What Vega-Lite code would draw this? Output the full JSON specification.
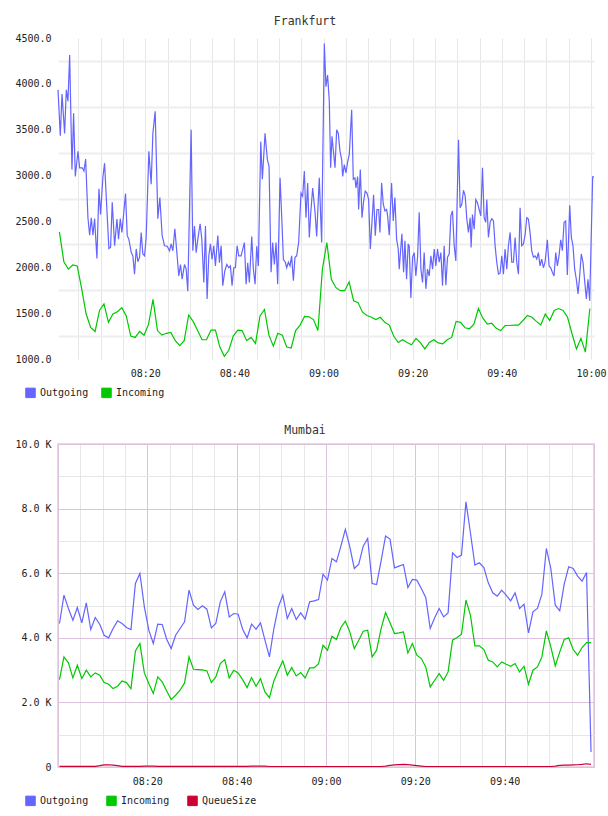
{
"$schema": "https://vega.github.io/schema/vega-lite/v6.json",
"padding": {"left": 14, "top": 15, "right": 0, "bottom": 0},
"config": {
  "font": "DejaVu Sans Mono",
  "view": {"stroke": null},
  "axis": {"labelFont": "DejaVu Sans Mono", "labelFontSize": 10, "labelColor": "#222", "ticks": false, "tickSize": 0, "domain": false, "labelOverlap": false, "labelFlush": false, "labelBound": false},
  "title": {"font": "DejaVu Sans Mono", "fontSize": 11.5, "fontWeight": "normal", "color": "#333", "anchor": "middle"},
  "legend": {"padding": 0, "labelFont": "DejaVu Sans Mono", "labelFontSize": 10, "labelColor": "#222", "symbolType": "square", "symbolSize": 90, "labelOffset": 4},
  "concat": {"spacing": 23}
},
"resolve": {"scale": {"color": "independent"}, "legend": {"color": "independent"}},
"vconcat": [
{
  "name": "fr",
  "title": {"text": "Frankfurt", "offset": 6, "dx": -21},
  "width": 536, "height": 321,
  "data": {"format": {"parse": {"t": "date:'%H:%M:%S'"}}, "values": [
{"t":"08:00:26","s":"Outgoing","v":3935},{"t":"08:00:57","s":"Outgoing","v":3435},{"t":"08:01:20","s":"Outgoing","v":3890},{"t":"08:01:55","s":"Outgoing","v":3460},{"t":"08:02:18","s":"Outgoing","v":3935},{"t":"08:02:40","s":"Outgoing","v":3810},{"t":"08:03:03","s":"Outgoing","v":4315},{"t":"08:03:34","s":"Outgoing","v":3065},{"t":"08:03:56","s":"Outgoing","v":3680},{"t":"08:04:19","s":"Outgoing","v":2990},{"t":"08:04:55","s":"Outgoing","v":3265},{"t":"08:05:17","s":"Outgoing","v":3085},{"t":"08:05:53","s":"Outgoing","v":3085},{"t":"08:06:15","s":"Outgoing","v":3050},{"t":"08:06:38","s":"Outgoing","v":3180},{"t":"08:07:09","s":"Outgoing","v":2540},{"t":"08:07:32","s":"Outgoing","v":2350},{"t":"08:07:54","s":"Outgoing","v":2540},{"t":"08:08:16","s":"Outgoing","v":2350},{"t":"08:08:39","s":"Outgoing","v":2530},{"t":"08:09:10","s":"Outgoing","v":2095},{"t":"08:09:37","s":"Outgoing","v":2855},{"t":"08:09:59","s":"Outgoing","v":2575},{"t":"08:10:31","s":"Outgoing","v":2990},{"t":"08:10:53","s":"Outgoing","v":3135},{"t":"08:11:24","s":"Outgoing","v":2630},{"t":"08:11:51","s":"Outgoing","v":2205},{"t":"08:12:14","s":"Outgoing","v":2220},{"t":"08:12:36","s":"Outgoing","v":2710},{"t":"08:13:08","s":"Outgoing","v":2235},{"t":"08:13:39","s":"Outgoing","v":2525},{"t":"08:14:01","s":"Outgoing","v":2305},{"t":"08:14:24","s":"Outgoing","v":2530},{"t":"08:14:46","s":"Outgoing","v":2380},{"t":"08:15:35","s":"Outgoing","v":2805},{"t":"08:15:58","s":"Outgoing","v":2345},{"t":"08:16:20","s":"Outgoing","v":2305},{"t":"08:16:52","s":"Outgoing","v":2160},{"t":"08:17:14","s":"Outgoing","v":2125},{"t":"08:17:36","s":"Outgoing","v":1925},{"t":"08:17:59","s":"Outgoing","v":2200},{"t":"08:18:21","s":"Outgoing","v":2060},{"t":"08:18:44","s":"Outgoing","v":2110},{"t":"08:19:06","s":"Outgoing","v":2380},{"t":"08:19:28","s":"Outgoing","v":2145},{"t":"08:19:51","s":"Outgoing","v":2125},{"t":"08:20:13","s":"Outgoing","v":2325},{"t":"08:20:49","s":"Outgoing","v":3265},{"t":"08:21:20","s":"Outgoing","v":2905},{"t":"08:21:43","s":"Outgoing","v":3460},{"t":"08:22:14","s":"Outgoing","v":3700},{"t":"08:22:50","s":"Outgoing","v":2530},{"t":"08:23:17","s":"Outgoing","v":2760},{"t":"08:23:48","s":"Outgoing","v":2345},{"t":"08:24:20","s":"Outgoing","v":2235},{"t":"08:24:56","s":"Outgoing","v":2230},{"t":"08:25:27","s":"Outgoing","v":2180},{"t":"08:25:49","s":"Outgoing","v":2255},{"t":"08:26:12","s":"Outgoing","v":2180},{"t":"08:26:39","s":"Outgoing","v":2420},{"t":"08:27:06","s":"Outgoing","v":2160},{"t":"08:27:32","s":"Outgoing","v":1905},{"t":"08:27:55","s":"Outgoing","v":2030},{"t":"08:28:17","s":"Outgoing","v":1870},{"t":"08:28:49","s":"Outgoing","v":2030},{"t":"08:29:11","s":"Outgoing","v":1980},{"t":"08:29:33","s":"Outgoing","v":1740},{"t":"08:30:18","s":"Outgoing","v":3500},{"t":"08:30:41","s":"Outgoing","v":2180},{"t":"08:31:03","s":"Outgoing","v":2450},{"t":"08:31:26","s":"Outgoing","v":2160},{"t":"08:31:48","s":"Outgoing","v":2305},{"t":"08:32:19","s":"Outgoing","v":2475},{"t":"08:32:42","s":"Outgoing","v":2305},{"t":"08:33:09","s":"Outgoing","v":1835},{"t":"08:33:31","s":"Outgoing","v":2450},{"t":"08:33:53","s":"Outgoing","v":1655},{"t":"08:34:16","s":"Outgoing","v":2125},{"t":"08:34:38","s":"Outgoing","v":2255},{"t":"08:35:00","s":"Outgoing","v":2085},{"t":"08:35:23","s":"Outgoing","v":2235},{"t":"08:35:45","s":"Outgoing","v":2015},{"t":"08:36:17","s":"Outgoing","v":2345},{"t":"08:36:39","s":"Outgoing","v":2050},{"t":"08:37:02","s":"Outgoing","v":2235},{"t":"08:37:24","s":"Outgoing","v":1800},{"t":"08:37:51","s":"Outgoing","v":1960},{"t":"08:38:18","s":"Outgoing","v":2030},{"t":"08:38:45","s":"Outgoing","v":1995},{"t":"08:39:07","s":"Outgoing","v":2015},{"t":"08:39:29","s":"Outgoing","v":1800},{"t":"08:39:52","s":"Outgoing","v":1995},{"t":"08:40:14","s":"Outgoing","v":1995},{"t":"08:40:37","s":"Outgoing","v":2235},{"t":"08:40:59","s":"Outgoing","v":2125},{"t":"08:41:30","s":"Outgoing","v":2125},{"t":"08:42:15","s":"Outgoing","v":2270},{"t":"08:42:38","s":"Outgoing","v":1815},{"t":"08:43:00","s":"Outgoing","v":2050},{"t":"08:43:22","s":"Outgoing","v":1835},{"t":"08:43:54","s":"Outgoing","v":2335},{"t":"08:44:16","s":"Outgoing","v":1980},{"t":"08:44:39","s":"Outgoing","v":1815},{"t":"08:45:01","s":"Outgoing","v":2230},{"t":"08:45:23","s":"Outgoing","v":2015},{"t":"08:45:55","s":"Outgoing","v":3370},{"t":"08:46:17","s":"Outgoing","v":2960},{"t":"08:46:53","s":"Outgoing","v":3460},{"t":"08:47:24","s":"Outgoing","v":3175},{"t":"08:47:47","s":"Outgoing","v":3100},{"t":"08:48:14","s":"Outgoing","v":1945},{"t":"08:48:36","s":"Outgoing","v":2270},{"t":"08:48:59","s":"Outgoing","v":2030},{"t":"08:49:21","s":"Outgoing","v":2270},{"t":"08:49:43","s":"Outgoing","v":1815},{"t":"08:50:15","s":"Outgoing","v":2975},{"t":"08:50:37","s":"Outgoing","v":2560},{"t":"08:51:00","s":"Outgoing","v":2085},{"t":"08:51:26","s":"Outgoing","v":2055},{"t":"08:51:44","s":"Outgoing","v":1995},{"t":"08:52:07","s":"Outgoing","v":2055},{"t":"08:52:29","s":"Outgoing","v":2015},{"t":"08:52:51","s":"Outgoing","v":2125},{"t":"08:53:14","s":"Outgoing","v":1855},{"t":"08:53:36","s":"Outgoing","v":2110},{"t":"08:53:59","s":"Outgoing","v":2125},{"t":"08:54:26","s":"Outgoing","v":2275},{"t":"08:54:57","s":"Outgoing","v":2810},{"t":"08:55:19","s":"Outgoing","v":2775},{"t":"08:55:42","s":"Outgoing","v":3050},{"t":"08:56:04","s":"Outgoing","v":2540},{"t":"08:56:27","s":"Outgoing","v":2920},{"t":"08:56:49","s":"Outgoing","v":2325},{"t":"08:57:07","s":"Outgoing","v":2575},{"t":"08:57:34","s":"Outgoing","v":2865},{"t":"08:58:05","s":"Outgoing","v":2610},{"t":"08:58:28","s":"Outgoing","v":2335},{"t":"08:59:03","s":"Outgoing","v":2975},{"t":"08:59:35","s":"Outgoing","v":2270},{"t":"09:00:11","s":"Outgoing","v":4440},{"t":"09:00:33","s":"Outgoing","v":3970},{"t":"09:00:55","s":"Outgoing","v":4095},{"t":"09:01:18","s":"Outgoing","v":3810},
{"t":"09:01:36","s":"Outgoing","v":3085},{"t":"09:01:54","s":"Outgoing","v":3428},{"t":"09:02:35","s":"Outgoing","v":3085},{"t":"09:02:57","s":"Outgoing","v":3500},{"t":"09:03:19","s":"Outgoing","v":3460},{"t":"09:03:42","s":"Outgoing","v":3265},{"t":"09:04:04","s":"Outgoing","v":3175},{"t":"09:04:18","s":"Outgoing","v":2990},{"t":"09:04:40","s":"Outgoing","v":3120},{"t":"09:05:02","s":"Outgoing","v":3030},{"t":"09:05:25","s":"Outgoing","v":3150},{"t":"09:05:47","s":"Outgoing","v":3230},{"t":"09:06:19","s":"Outgoing","v":3718},{"t":"09:06:41","s":"Outgoing","v":2960},{"t":"09:07:03","s":"Outgoing","v":2975},{"t":"09:07:17","s":"Outgoing","v":2865},{"t":"09:07:39","s":"Outgoing","v":2990},{"t":"09:07:53","s":"Outgoing","v":2630},{"t":"09:08:15","s":"Outgoing","v":3065},{"t":"09:08:38","s":"Outgoing","v":2540},{"t":"09:09:00","s":"Outgoing","v":2720},{"t":"09:09:22","s":"Outgoing","v":2830},{"t":"09:09:45","s":"Outgoing","v":2810},{"t":"09:10:07","s":"Outgoing","v":2740},{"t":"09:10:30","s":"Outgoing","v":2200},{"t":"09:10:52","s":"Outgoing","v":2490},{"t":"09:11:14","s":"Outgoing","v":2790},{"t":"09:11:37","s":"Outgoing","v":2345},{"t":"09:11:59","s":"Outgoing","v":2630},{"t":"09:12:22","s":"Outgoing","v":2630},{"t":"09:12:40","s":"Outgoing","v":2380},{"t":"09:13:02","s":"Outgoing","v":2920},{"t":"09:13:24","s":"Outgoing","v":2690},{"t":"09:13:47","s":"Outgoing","v":2615},{"t":"09:14:09","s":"Outgoing","v":2630},{"t":"09:14:23","s":"Outgoing","v":2560},{"t":"09:14:45","s":"Outgoing","v":2350},{"t":"09:15:16","s":"Outgoing","v":2920},{"t":"09:15:39","s":"Outgoing","v":2505},{"t":"09:16:01","s":"Outgoing","v":2760},{"t":"09:16:24","s":"Outgoing","v":2305},{"t":"09:16:46","s":"Outgoing","v":2200},{"t":"09:16:59","s":"Outgoing","v":1980},{"t":"09:17:35","s":"Outgoing","v":2365},{"t":"09:17:58","s":"Outgoing","v":1945},{"t":"09:18:16","s":"Outgoing","v":2290},{"t":"09:18:38","s":"Outgoing","v":1870},{"t":"09:19:00","s":"Outgoing","v":2255},{"t":"09:19:14","s":"Outgoing","v":2230},{"t":"09:19:36","s":"Outgoing","v":1665},{"t":"09:19:59","s":"Outgoing","v":2110},{"t":"09:20:21","s":"Outgoing","v":2160},{"t":"09:20:43","s":"Outgoing","v":1905},{"t":"09:21:06","s":"Outgoing","v":2110},{"t":"09:21:28","s":"Outgoing","v":2600},{"t":"09:21:51","s":"Outgoing","v":1980},{"t":"09:22:13","s":"Outgoing","v":1835},{"t":"09:22:35","s":"Outgoing","v":2160},{"t":"09:22:58","s":"Outgoing","v":1765},{"t":"09:23:20","s":"Outgoing","v":1980},{"t":"09:23:43","s":"Outgoing","v":1905},{"t":"09:24:05","s":"Outgoing","v":2125},{"t":"09:24:28","s":"Outgoing","v":1980},{"t":"09:24:50","s":"Outgoing","v":2200},{"t":"09:25:12","s":"Outgoing","v":2015},{"t":"09:25:35","s":"Outgoing","v":2200},{"t":"09:25:57","s":"Outgoing","v":2055},{"t":"09:26:20","s":"Outgoing","v":2160},{"t":"09:26:42","s":"Outgoing","v":1800},{"t":"09:27:04","s":"Outgoing","v":2235},{"t":"09:27:27","s":"Outgoing","v":1805},{"t":"09:27:49","s":"Outgoing","v":2110},{"t":"09:28:12","s":"Outgoing","v":2145},{"t":"09:28:34","s":"Outgoing","v":2560},{"t":"09:28:56","s":"Outgoing","v":2615},{"t":"09:29:19","s":"Outgoing","v":2235},{"t":"09:29:41","s":"Outgoing","v":2070},{"t":"09:30:17","s":"Outgoing","v":3390},{"t":"09:30:39","s":"Outgoing","v":2650},{"t":"09:31:02","s":"Outgoing","v":2690},{"t":"09:31:24","s":"Outgoing","v":2840},{"t":"09:31:47","s":"Outgoing","v":2775},{"t":"09:32:09","s":"Outgoing","v":2525},{"t":"09:32:31","s":"Outgoing","v":2380},{"t":"09:32:54","s":"Outgoing","v":2540},{"t":"09:33:07","s":"Outgoing","v":2215},{"t":"09:33:25","s":"Outgoing","v":2575},{"t":"09:33:48","s":"Outgoing","v":2415},{"t":"09:34:10","s":"Outgoing","v":2740},{"t":"09:34:32","s":"Outgoing","v":2705},{"t":"09:34:55","s":"Outgoing","v":2630},{"t":"09:35:17","s":"Outgoing","v":2560},{"t":"09:35:40","s":"Outgoing","v":3085},{"t":"09:36:02","s":"Outgoing","v":2540},{"t":"09:36:24","s":"Outgoing","v":2490},{"t":"09:36:38","s":"Outgoing","v":2740},{"t":"09:37:00","s":"Outgoing","v":2325},{"t":"09:37:23","s":"Outgoing","v":2490},{"t":"09:37:45","s":"Outgoing","v":2530},{"t":"09:38:08","s":"Outgoing","v":2505},{"t":"09:38:30","s":"Outgoing","v":2235},{"t":"09:38:52","s":"Outgoing","v":2055},{"t":"09:39:15","s":"Outgoing","v":1925},{"t":"09:39:37","s":"Outgoing","v":1935},{"t":"09:40:00","s":"Outgoing","v":2125},{"t":"09:40:22","s":"Outgoing","v":1925},{"t":"09:40:44","s":"Outgoing","v":2200},{"t":"09:41:07","s":"Outgoing","v":1980},{"t":"09:41:29","s":"Outgoing","v":2235},{"t":"09:41:52","s":"Outgoing","v":2380},{"t":"09:42:14","s":"Outgoing","v":2055},{"t":"09:42:36","s":"Outgoing","v":2055},{"t":"09:42:59","s":"Outgoing","v":2325},{"t":"09:43:21","s":"Outgoing","v":2055},{"t":"09:43:44","s":"Outgoing","v":1925},{"t":"09:44:06","s":"Outgoing","v":2650},{"t":"09:44:28","s":"Outgoing","v":2235},{"t":"09:44:51","s":"Outgoing","v":2255},{"t":"09:45:13","s":"Outgoing","v":2350},{"t":"09:45:36","s":"Outgoing","v":2540},{"t":"09:45:58","s":"Outgoing","v":2525},{"t":"09:46:20","s":"Outgoing","v":2380},{"t":"09:46:43","s":"Outgoing","v":2180},{"t":"09:47:05","s":"Outgoing","v":2110},{"t":"09:47:28","s":"Outgoing","v":2125},{"t":"09:47:50","s":"Outgoing","v":2090},{"t":"09:48:12","s":"Outgoing","v":2160},{"t":"09:48:35","s":"Outgoing","v":2015},{"t":"09:48:57","s":"Outgoing","v":2090},{"t":"09:49:20","s":"Outgoing","v":1995},{"t":"09:49:42","s":"Outgoing","v":2055},{"t":"09:50:13","s":"Outgoing","v":2300},{"t":"09:50:36","s":"Outgoing","v":2015},{"t":"09:50:58","s":"Outgoing","v":1995},{"t":"09:51:21","s":"Outgoing","v":1945},{"t":"09:51:43","s":"Outgoing","v":1905},{"t":"09:52:06","s":"Outgoing","v":2160},{"t":"09:52:28","s":"Outgoing","v":2015},{"t":"09:52:50","s":"Outgoing","v":2125},{"t":"09:53:13","s":"Outgoing","v":2300},{"t":"09:53:35","s":"Outgoing","v":2180},{"t":"09:53:58","s":"Outgoing","v":2490},{"t":"09:54:20","s":"Outgoing","v":2505},{"t":"09:54:42","s":"Outgoing","v":1915},{"t":"09:55:14","s":"Outgoing","v":2675},{"t":"09:55:36","s":"Outgoing","v":2325},{"t":"09:55:58","s":"Outgoing","v":2235},{"t":"09:56:21","s":"Outgoing","v":1980},{"t":"09:56:43","s":"Outgoing","v":1870},{"t":"09:57:06","s":"Outgoing","v":1710},{"t":"09:57:28","s":"Outgoing","v":1905},{"t":"09:57:50","s":"Outgoing","v":2145},{"t":"09:58:13","s":"Outgoing","v":2055},{"t":"09:58:35","s":"Outgoing","v":1855},{"t":"09:58:58","s":"Outgoing","v":1655},{"t":"09:59:20","s":"Outgoing","v":1870},{"t":"09:59:43","s":"Outgoing","v":1635},{"t":"10:00:23","s":"Outgoing","v":2985},{"t":"10:00:41","s":"Outgoing","v":2985},
{"t":"08:00:45","s":"Incoming","v":2386},{"t":"08:01:45","s":"Incoming","v":2060},{"t":"08:02:45","s":"Incoming","v":1980},{"t":"08:03:45","s":"Incoming","v":2025},{"t":"08:04:45","s":"Incoming","v":2015},{"t":"08:05:45","s":"Incoming","v":1765},{"t":"08:06:45","s":"Incoming","v":1490},{"t":"08:07:45","s":"Incoming","v":1345},{"t":"08:08:45","s":"Incoming","v":1300},{"t":"08:09:45","s":"Incoming","v":1530},{"t":"08:10:45","s":"Incoming","v":1600},{"t":"08:11:45","s":"Incoming","v":1400},{"t":"08:12:45","s":"Incoming","v":1490},{"t":"08:13:45","s":"Incoming","v":1515},{"t":"08:14:45","s":"Incoming","v":1560},{"t":"08:15:45","s":"Incoming","v":1470},{"t":"08:16:45","s":"Incoming","v":1250},{"t":"08:17:45","s":"Incoming","v":1235},{"t":"08:18:45","s":"Incoming","v":1300},{"t":"08:19:45","s":"Incoming","v":1260},{"t":"08:20:45","s":"Incoming","v":1380},{"t":"08:21:45","s":"Incoming","v":1650},{"t":"08:22:45","s":"Incoming","v":1310},{"t":"08:23:45","s":"Incoming","v":1260},{"t":"08:24:45","s":"Incoming","v":1280},{"t":"08:25:45","s":"Incoming","v":1290},{"t":"08:26:45","s":"Incoming","v":1200},{"t":"08:27:45","s":"Incoming","v":1145},{"t":"08:28:45","s":"Incoming","v":1200},{"t":"08:29:45","s":"Incoming","v":1480},{"t":"08:30:45","s":"Incoming","v":1410},{"t":"08:31:45","s":"Incoming","v":1310},{"t":"08:32:45","s":"Incoming","v":1210},{"t":"08:33:45","s":"Incoming","v":1210},{"t":"08:34:45","s":"Incoming","v":1315},{"t":"08:35:45","s":"Incoming","v":1315},{"t":"08:36:45","s":"Incoming","v":1130},{"t":"08:37:45","s":"Incoming","v":1030},{"t":"08:38:45","s":"Incoming","v":1095},{"t":"08:39:45","s":"Incoming","v":1250},{"t":"08:40:45","s":"Incoming","v":1315},{"t":"08:41:45","s":"Incoming","v":1310},{"t":"08:42:45","s":"Incoming","v":1200},{"t":"08:43:45","s":"Incoming","v":1235},{"t":"08:44:45","s":"Incoming","v":1170},{"t":"08:45:45","s":"Incoming","v":1470},{"t":"08:46:45","s":"Incoming","v":1540},{"t":"08:47:45","s":"Incoming","v":1260},{"t":"08:48:45","s":"Incoming","v":1140},{"t":"08:49:45","s":"Incoming","v":1280},{"t":"08:50:45","s":"Incoming","v":1260},{"t":"08:51:45","s":"Incoming","v":1130},{"t":"08:52:45","s":"Incoming","v":1120},{"t":"08:53:45","s":"Incoming","v":1310},{"t":"08:54:45","s":"Incoming","v":1370},{"t":"08:55:45","s":"Incoming","v":1465},{"t":"08:56:45","s":"Incoming","v":1460},{"t":"08:57:45","s":"Incoming","v":1430},{"t":"08:58:45","s":"Incoming","v":1310},{"t":"08:59:45","s":"Incoming","v":1980},{"t":"09:00:45","s":"Incoming","v":2270},{"t":"09:01:45","s":"Incoming","v":1870},{"t":"09:02:45","s":"Incoming","v":1780},{"t":"09:03:45","s":"Incoming","v":1745},{"t":"09:04:45","s":"Incoming","v":1745},{"t":"09:05:45","s":"Incoming","v":1840},{"t":"09:06:45","s":"Incoming","v":1635},{"t":"09:07:45","s":"Incoming","v":1615},{"t":"09:08:45","s":"Incoming","v":1510},{"t":"09:09:45","s":"Incoming","v":1475},{"t":"09:10:45","s":"Incoming","v":1455},{"t":"09:11:45","s":"Incoming","v":1430},{"t":"09:12:45","s":"Incoming","v":1455},{"t":"09:13:45","s":"Incoming","v":1400},{"t":"09:14:45","s":"Incoming","v":1370},{"t":"09:15:45","s":"Incoming","v":1250},{"t":"09:16:45","s":"Incoming","v":1180},{"t":"09:17:45","s":"Incoming","v":1210},{"t":"09:18:45","s":"Incoming","v":1180},{"t":"09:19:45","s":"Incoming","v":1155},{"t":"09:20:45","s":"Incoming","v":1225},{"t":"09:21:45","s":"Incoming","v":1175},{"t":"09:22:45","s":"Incoming","v":1110},{"t":"09:23:45","s":"Incoming","v":1180},{"t":"09:24:45","s":"Incoming","v":1210},{"t":"09:25:45","s":"Incoming","v":1175},{"t":"09:26:45","s":"Incoming","v":1165},{"t":"09:27:45","s":"Incoming","v":1210},{"t":"09:28:45","s":"Incoming","v":1235},{"t":"09:29:45","s":"Incoming","v":1410},{"t":"09:30:45","s":"Incoming","v":1400},{"t":"09:31:45","s":"Incoming","v":1340},{"t":"09:32:45","s":"Incoming","v":1330},{"t":"09:33:45","s":"Incoming","v":1380},{"t":"09:34:45","s":"Incoming","v":1550},{"t":"09:35:45","s":"Incoming","v":1445},{"t":"09:36:45","s":"Incoming","v":1380},{"t":"09:37:45","s":"Incoming","v":1390},{"t":"09:38:45","s":"Incoming","v":1335},{"t":"09:39:45","s":"Incoming","v":1310},{"t":"09:40:45","s":"Incoming","v":1365},{"t":"09:41:45","s":"Incoming","v":1365},{"t":"09:42:45","s":"Incoming","v":1370},{"t":"09:43:45","s":"Incoming","v":1370},{"t":"09:44:45","s":"Incoming","v":1420},{"t":"09:45:45","s":"Incoming","v":1475},{"t":"09:46:45","s":"Incoming","v":1455},{"t":"09:47:45","s":"Incoming","v":1410},{"t":"09:48:45","s":"Incoming","v":1370},{"t":"09:49:45","s":"Incoming","v":1490},{"t":"09:50:45","s":"Incoming","v":1420},{"t":"09:51:45","s":"Incoming","v":1530},{"t":"09:52:45","s":"Incoming","v":1550},{"t":"09:53:45","s":"Incoming","v":1530},{"t":"09:54:45","s":"Incoming","v":1455},{"t":"09:55:45","s":"Incoming","v":1275},{"t":"09:56:45","s":"Incoming","v":1110},{"t":"09:57:45","s":"Incoming","v":1225},{"t":"09:58:45","s":"Incoming","v":1075},{"t":"09:59:45","s":"Incoming","v":1550}
  ]},
  "mark": {"type": "line", "strokeWidth": 1.2},
  "encoding": {
    "x": {"field": "t", "type": "temporal", "title": null,
      "scale": {"domain": [{"year": 1900, "month": 1, "date": 1, "hours": 8, "minutes": 0, "seconds": 26}, {"year": 1900, "month": 1, "date": 1, "hours": 10, "minutes": 0, "seconds": 41}]},
      "axis": {"values": [
        {"year": 1900, "month": 1, "date": 1, "hours": 8, "minutes": 5}, {"year": 1900, "month": 1, "date": 1, "hours": 8, "minutes": 10}, {"year": 1900, "month": 1, "date": 1, "hours": 8, "minutes": 15}, {"year": 1900, "month": 1, "date": 1, "hours": 8, "minutes": 20},
        {"year": 1900, "month": 1, "date": 1, "hours": 8, "minutes": 25}, {"year": 1900, "month": 1, "date": 1, "hours": 8, "minutes": 30}, {"year": 1900, "month": 1, "date": 1, "hours": 8, "minutes": 35}, {"year": 1900, "month": 1, "date": 1, "hours": 8, "minutes": 40},
        {"year": 1900, "month": 1, "date": 1, "hours": 8, "minutes": 45}, {"year": 1900, "month": 1, "date": 1, "hours": 8, "minutes": 50}, {"year": 1900, "month": 1, "date": 1, "hours": 8, "minutes": 55}, {"year": 1900, "month": 1, "date": 1, "hours": 9, "minutes": 0},
        {"year": 1900, "month": 1, "date": 1, "hours": 9, "minutes": 5}, {"year": 1900, "month": 1, "date": 1, "hours": 9, "minutes": 10}, {"year": 1900, "month": 1, "date": 1, "hours": 9, "minutes": 15}, {"year": 1900, "month": 1, "date": 1, "hours": 9, "minutes": 20},
        {"year": 1900, "month": 1, "date": 1, "hours": 9, "minutes": 25}, {"year": 1900, "month": 1, "date": 1, "hours": 9, "minutes": 30}, {"year": 1900, "month": 1, "date": 1, "hours": 9, "minutes": 35}, {"year": 1900, "month": 1, "date": 1, "hours": 9, "minutes": 40},
        {"year": 1900, "month": 1, "date": 1, "hours": 9, "minutes": 45}, {"year": 1900, "month": 1, "date": 1, "hours": 9, "minutes": 50}, {"year": 1900, "month": 1, "date": 1, "hours": 9, "minutes": 55}, {"year": 1900, "month": 1, "date": 1, "hours": 10, "minutes": 0}],
        "labelExpr": "minutes(datum.value) % 20 === 0 ? timeFormat(datum.value, '%H:%M') : ''", "grid": true, "gridColor": "#e6e6e6", "gridWidth": 1, "labelPadding": 9}},
    "y": {"field": "v", "type": "quantitative", "title": null,
      "scale": {"domain": [1000, 4500], "nice": false, "zero": false},
      "axis": {"values": [1000, 1250, 1500, 1750, 2000, 2250, 2500, 2750, 3000, 3250, 3500, 3750, 4000, 4250, 4500], "labelExpr": "datum.value % 500 === 0 ? format(datum.value, '.1f') : ''", "grid": true, "gridColor": {"condition": {"test": "datum.value % 500 === 0", "value": "transparent"}, "value": "#eeeeee"}, "gridWidth": 2, "labelPadding": 7}},
    "color": {"field": "s", "type": "nominal",
      "scale": {"domain": ["Outgoing", "Incoming"], "range": ["#6464ff", "#00c800"]},
      "legend": {"title": null, "orient": "none", "direction": "horizontal", "legendX": -33, "legendY": 349, "columnPadding": 10,
        "encode": {"symbols": {"update": {"fill": {"scale": "fr_color", "field": "value"}, "stroke": {"value": "#888888"}, "strokeWidth": {"value": 1}}}}}}
  }
},
{
  "name": "mu",
  "title": {"text": "Mumbai", "offset": 3, "dx": -21},
  "width": 536, "height": 323,
  "view": {"stroke": "#e2c6e2", "strokeWidth": 1.5},
  "data": {"format": {"parse": {"t": "date:'%H:%M:%S'"}}, "values": [
{"t":"08:00:20","s":"Outgoing","v":4442},{"t":"08:01:20","s":"Outgoing","v":5320},{"t":"08:02:20","s":"Outgoing","v":4907},{"t":"08:03:20","s":"Outgoing","v":4545},{"t":"08:04:20","s":"Outgoing","v":4938},{"t":"08:05:20","s":"Outgoing","v":4463},{"t":"08:06:20","s":"Outgoing","v":5082},{"t":"08:07:20","s":"Outgoing","v":4256},{"t":"08:08:20","s":"Outgoing","v":4628},{"t":"08:09:20","s":"Outgoing","v":4421},
{"t":"08:10:20","s":"Outgoing","v":4080},{"t":"08:11:20","s":"Outgoing","v":3998},{"t":"08:12:20","s":"Outgoing","v":4287},{"t":"08:13:20","s":"Outgoing","v":4525},{"t":"08:14:20","s":"Outgoing","v":4442},{"t":"08:15:20","s":"Outgoing","v":4318},{"t":"08:16:20","s":"Outgoing","v":4256},{"t":"08:17:20","s":"Outgoing","v":5682},{"t":"08:18:20","s":"Outgoing","v":5991},{"t":"08:19:20","s":"Outgoing","v":4958},
{"t":"08:20:20","s":"Outgoing","v":4235},{"t":"08:21:20","s":"Outgoing","v":3822},{"t":"08:22:20","s":"Outgoing","v":4421},{"t":"08:23:20","s":"Outgoing","v":4411},{"t":"08:24:20","s":"Outgoing","v":3956},{"t":"08:25:20","s":"Outgoing","v":3667},{"t":"08:26:20","s":"Outgoing","v":4080},{"t":"08:27:20","s":"Outgoing","v":4287},{"t":"08:28:20","s":"Outgoing","v":4494},{"t":"08:29:20","s":"Outgoing","v":5475},
{"t":"08:30:20","s":"Outgoing","v":5010},{"t":"08:31:20","s":"Outgoing","v":4876},{"t":"08:32:20","s":"Outgoing","v":4989},{"t":"08:33:20","s":"Outgoing","v":4886},{"t":"08:34:20","s":"Outgoing","v":4308},{"t":"08:35:20","s":"Outgoing","v":4442},{"t":"08:36:20","s":"Outgoing","v":5113},{"t":"08:37:20","s":"Outgoing","v":5423},{"t":"08:38:20","s":"Outgoing","v":4648},{"t":"08:39:20","s":"Outgoing","v":4752},
{"t":"08:40:20","s":"Outgoing","v":4731},{"t":"08:41:20","s":"Outgoing","v":4266},{"t":"08:42:20","s":"Outgoing","v":3998},{"t":"08:43:20","s":"Outgoing","v":4421},{"t":"08:44:20","s":"Outgoing","v":4266},{"t":"08:45:20","s":"Outgoing","v":4463},{"t":"08:46:20","s":"Outgoing","v":3925},{"t":"08:47:20","s":"Outgoing","v":3409},{"t":"08:48:20","s":"Outgoing","v":4287},{"t":"08:49:20","s":"Outgoing","v":4958},
{"t":"08:50:20","s":"Outgoing","v":5320},{"t":"08:51:20","s":"Outgoing","v":4597},{"t":"08:52:20","s":"Outgoing","v":4907},{"t":"08:53:20","s":"Outgoing","v":4566},{"t":"08:54:20","s":"Outgoing","v":4772},{"t":"08:55:20","s":"Outgoing","v":4576},{"t":"08:56:20","s":"Outgoing","v":5113},{"t":"08:57:20","s":"Outgoing","v":5144},{"t":"08:58:20","s":"Outgoing","v":5186},{"t":"08:59:20","s":"Outgoing","v":5971},
{"t":"09:00:20","s":"Outgoing","v":5785},{"t":"09:01:20","s":"Outgoing","v":6456},{"t":"09:02:20","s":"Outgoing","v":6353},{"t":"09:03:20","s":"Outgoing","v":6838},{"t":"09:04:20","s":"Outgoing","v":7355},{"t":"09:05:20","s":"Outgoing","v":6818},{"t":"09:06:20","s":"Outgoing","v":6146},{"t":"09:07:20","s":"Outgoing","v":6281},{"t":"09:08:20","s":"Outgoing","v":6838},{"t":"09:09:20","s":"Outgoing","v":7076},
{"t":"09:10:20","s":"Outgoing","v":5682},{"t":"09:11:20","s":"Outgoing","v":5651},{"t":"09:12:20","s":"Outgoing","v":6384},{"t":"09:13:20","s":"Outgoing","v":7148},{"t":"09:14:20","s":"Outgoing","v":7055},{"t":"09:15:20","s":"Outgoing","v":6167},{"t":"09:16:20","s":"Outgoing","v":6219},{"t":"09:17:20","s":"Outgoing","v":6270},{"t":"09:18:20","s":"Outgoing","v":5558},{"t":"09:19:20","s":"Outgoing","v":5805},
{"t":"09:20:20","s":"Outgoing","v":5785},{"t":"09:21:20","s":"Outgoing","v":5527},{"t":"09:22:20","s":"Outgoing","v":5248},{"t":"09:23:20","s":"Outgoing","v":4287},{"t":"09:24:20","s":"Outgoing","v":4618},{"t":"09:25:20","s":"Outgoing","v":4907},{"t":"09:26:20","s":"Outgoing","v":4649},{"t":"09:27:20","s":"Outgoing","v":4772},{"t":"09:28:20","s":"Outgoing","v":6632},{"t":"09:29:20","s":"Outgoing","v":6487},
{"t":"09:30:20","s":"Outgoing","v":6560},{"t":"09:31:20","s":"Outgoing","v":8212},{"t":"09:32:20","s":"Outgoing","v":7252},{"t":"09:33:20","s":"Outgoing","v":6250},{"t":"09:34:20","s":"Outgoing","v":6322},{"t":"09:35:20","s":"Outgoing","v":6177},{"t":"09:36:20","s":"Outgoing","v":5702},{"t":"09:37:20","s":"Outgoing","v":5392},{"t":"09:38:20","s":"Outgoing","v":5289},{"t":"09:39:20","s":"Outgoing","v":5475},
{"t":"09:40:20","s":"Outgoing","v":5320},{"t":"09:41:20","s":"Outgoing","v":5144},{"t":"09:42:20","s":"Outgoing","v":5392},{"t":"09:43:20","s":"Outgoing","v":4907},{"t":"09:44:20","s":"Outgoing","v":5041},{"t":"09:45:20","s":"Outgoing","v":4153},{"t":"09:46:20","s":"Outgoing","v":4803},{"t":"09:47:20","s":"Outgoing","v":4907},{"t":"09:48:20","s":"Outgoing","v":5351},{"t":"09:49:20","s":"Outgoing","v":6766},
{"t":"09:50:20","s":"Outgoing","v":6146},{"t":"09:51:20","s":"Outgoing","v":5010},{"t":"09:52:20","s":"Outgoing","v":4834},{"t":"09:53:20","s":"Outgoing","v":5661},{"t":"09:54:20","s":"Outgoing","v":6198},{"t":"09:55:20","s":"Outgoing","v":6146},{"t":"09:56:20","s":"Outgoing","v":5909},{"t":"09:57:20","s":"Outgoing","v":5754},{"t":"09:58:20","s":"Outgoing","v":6022},{"t":"09:59:20","s":"Outgoing","v":465},
{"t":"08:00:20","s":"Incoming","v":2706},{"t":"08:01:20","s":"Incoming","v":3409},{"t":"08:02:20","s":"Incoming","v":3223},{"t":"08:03:20","s":"Incoming","v":2758},{"t":"08:04:20","s":"Incoming","v":3151},{"t":"08:05:20","s":"Incoming","v":2737},{"t":"08:06:20","s":"Incoming","v":2996},{"t":"08:07:20","s":"Incoming","v":2789},{"t":"08:08:20","s":"Incoming","v":2913},{"t":"08:09:20","s":"Incoming","v":2841},
{"t":"08:10:20","s":"Incoming","v":2613},{"t":"08:11:20","s":"Incoming","v":2562},{"t":"08:12:20","s":"Incoming","v":2428},{"t":"08:13:20","s":"Incoming","v":2500},{"t":"08:14:20","s":"Incoming","v":2665},{"t":"08:15:20","s":"Incoming","v":2613},{"t":"08:16:20","s":"Incoming","v":2428},{"t":"08:17:20","s":"Incoming","v":3595},{"t":"08:18:20","s":"Incoming","v":3822},{"t":"08:19:20","s":"Incoming","v":2913},
{"t":"08:20:20","s":"Incoming","v":2583},{"t":"08:21:20","s":"Incoming","v":2273},{"t":"08:22:20","s":"Incoming","v":2789},{"t":"08:23:20","s":"Incoming","v":2634},{"t":"08:24:20","s":"Incoming","v":2355},{"t":"08:25:20","s":"Incoming","v":2087},{"t":"08:26:20","s":"Incoming","v":2221},{"t":"08:27:20","s":"Incoming","v":2376},{"t":"08:28:20","s":"Incoming","v":2603},{"t":"08:29:20","s":"Incoming","v":3409},
{"t":"08:30:20","s":"Incoming","v":3027},{"t":"08:31:20","s":"Incoming","v":3016},{"t":"08:32:20","s":"Incoming","v":3006},{"t":"08:33:20","s":"Incoming","v":2975},{"t":"08:34:20","s":"Incoming","v":2613},{"t":"08:35:20","s":"Incoming","v":2789},{"t":"08:36:20","s":"Incoming","v":3202},{"t":"08:37:20","s":"Incoming","v":3326},{"t":"08:38:20","s":"Incoming","v":2758},{"t":"08:39:20","s":"Incoming","v":2996},
{"t":"08:40:20","s":"Incoming","v":2913},{"t":"08:41:20","s":"Incoming","v":2706},{"t":"08:42:20","s":"Incoming","v":2459},{"t":"08:43:20","s":"Incoming","v":2768},{"t":"08:44:20","s":"Incoming","v":2500},{"t":"08:45:20","s":"Incoming","v":2737},{"t":"08:46:20","s":"Incoming","v":2324},{"t":"08:47:20","s":"Incoming","v":2149},{"t":"08:48:20","s":"Incoming","v":2665},{"t":"08:49:20","s":"Incoming","v":2996},
{"t":"08:50:20","s":"Incoming","v":3285},{"t":"08:51:20","s":"Incoming","v":2841},{"t":"08:52:20","s":"Incoming","v":3078},{"t":"08:53:20","s":"Incoming","v":2820},{"t":"08:54:20","s":"Incoming","v":2923},{"t":"08:55:20","s":"Incoming","v":2758},{"t":"08:56:20","s":"Incoming","v":3068},{"t":"08:57:20","s":"Incoming","v":3068},{"t":"08:58:20","s":"Incoming","v":3202},{"t":"08:59:20","s":"Incoming","v":3770},
{"t":"09:00:20","s":"Incoming","v":3616},{"t":"09:01:20","s":"Incoming","v":4049},{"t":"09:02:20","s":"Incoming","v":3946},{"t":"09:03:20","s":"Incoming","v":4318},{"t":"09:04:20","s":"Incoming","v":4514},{"t":"09:05:20","s":"Incoming","v":4184},{"t":"09:06:20","s":"Incoming","v":3667},{"t":"09:07:20","s":"Incoming","v":3925},{"t":"09:08:20","s":"Incoming","v":4204},{"t":"09:09:20","s":"Incoming","v":4235},
{"t":"09:10:20","s":"Incoming","v":3409},{"t":"09:11:20","s":"Incoming","v":3616},{"t":"09:12:20","s":"Incoming","v":4287},{"t":"09:13:20","s":"Incoming","v":4783},{"t":"09:14:20","s":"Incoming","v":4463},{"t":"09:15:20","s":"Incoming","v":4132},{"t":"09:16:20","s":"Incoming","v":4153},{"t":"09:17:20","s":"Incoming","v":4184},{"t":"09:18:20","s":"Incoming","v":3533},{"t":"09:19:20","s":"Incoming","v":3822},
{"t":"09:20:20","s":"Incoming","v":3461},{"t":"09:21:20","s":"Incoming","v":3357},{"t":"09:22:20","s":"Incoming","v":3099},{"t":"09:23:20","s":"Incoming","v":2479},{"t":"09:24:20","s":"Incoming","v":2686},{"t":"09:25:20","s":"Incoming","v":2892},{"t":"09:26:20","s":"Incoming","v":2686},{"t":"09:27:20","s":"Incoming","v":2944},{"t":"09:28:20","s":"Incoming","v":3925},{"t":"09:29:20","s":"Incoming","v":4008},
{"t":"09:30:20","s":"Incoming","v":4111},{"t":"09:31:20","s":"Incoming","v":5165},{"t":"09:32:20","s":"Incoming","v":4700},{"t":"09:33:20","s":"Incoming","v":3750},{"t":"09:34:20","s":"Incoming","v":3750},{"t":"09:35:20","s":"Incoming","v":3636},{"t":"09:36:20","s":"Incoming","v":3306},{"t":"09:37:20","s":"Incoming","v":3254},{"t":"09:38:20","s":"Incoming","v":3099},{"t":"09:39:20","s":"Incoming","v":3254},
{"t":"09:40:20","s":"Incoming","v":3182},{"t":"09:41:20","s":"Incoming","v":3120},{"t":"09:42:20","s":"Incoming","v":3202},{"t":"09:43:20","s":"Incoming","v":2944},{"t":"09:44:20","s":"Incoming","v":3120},{"t":"09:45:20","s":"Incoming","v":2562},{"t":"09:46:20","s":"Incoming","v":2996},{"t":"09:47:20","s":"Incoming","v":3099},{"t":"09:48:20","s":"Incoming","v":3409},{"t":"09:49:20","s":"Incoming","v":4215},
{"t":"09:50:20","s":"Incoming","v":3719},{"t":"09:51:20","s":"Incoming","v":3130},{"t":"09:52:20","s":"Incoming","v":3564},{"t":"09:53:20","s":"Incoming","v":3946},{"t":"09:54:20","s":"Incoming","v":3998},{"t":"09:55:20","s":"Incoming","v":3636},{"t":"09:56:20","s":"Incoming","v":3461},{"t":"09:57:20","s":"Incoming","v":3698},{"t":"09:58:20","s":"Incoming","v":3853},{"t":"09:59:20","s":"Incoming","v":3853},
{"t":"08:00:20","s":"QueueSize","v":20},{"t":"08:01:20","s":"QueueSize","v":20},{"t":"08:02:20","s":"QueueSize","v":20},{"t":"08:03:20","s":"QueueSize","v":20},{"t":"08:04:20","s":"QueueSize","v":20},{"t":"08:05:20","s":"QueueSize","v":20},{"t":"08:06:20","s":"QueueSize","v":20},{"t":"08:07:20","s":"QueueSize","v":20},{"t":"08:08:20","s":"QueueSize","v":20},{"t":"08:09:20","s":"QueueSize","v":40},
{"t":"08:10:20","s":"QueueSize","v":65},{"t":"08:11:20","s":"QueueSize","v":70},{"t":"08:12:20","s":"QueueSize","v":60},{"t":"08:13:20","s":"QueueSize","v":40},{"t":"08:14:20","s":"QueueSize","v":20},{"t":"08:15:20","s":"QueueSize","v":20},{"t":"08:16:20","s":"QueueSize","v":20},{"t":"08:17:20","s":"QueueSize","v":20},{"t":"08:18:20","s":"QueueSize","v":20},{"t":"08:19:20","s":"QueueSize","v":30},
{"t":"08:20:20","s":"QueueSize","v":30},{"t":"08:21:20","s":"QueueSize","v":30},{"t":"08:22:20","s":"QueueSize","v":20},{"t":"08:23:20","s":"QueueSize","v":20},{"t":"08:24:20","s":"QueueSize","v":20},{"t":"08:25:20","s":"QueueSize","v":20},{"t":"08:26:20","s":"QueueSize","v":20},{"t":"08:27:20","s":"QueueSize","v":20},{"t":"08:28:20","s":"QueueSize","v":20},{"t":"08:29:20","s":"QueueSize","v":20},
{"t":"08:30:20","s":"QueueSize","v":20},{"t":"08:31:20","s":"QueueSize","v":20},{"t":"08:32:20","s":"QueueSize","v":20},{"t":"08:33:20","s":"QueueSize","v":20},{"t":"08:34:20","s":"QueueSize","v":20},{"t":"08:35:20","s":"QueueSize","v":20},{"t":"08:36:20","s":"QueueSize","v":20},{"t":"08:37:20","s":"QueueSize","v":20},{"t":"08:38:20","s":"QueueSize","v":20},{"t":"08:39:20","s":"QueueSize","v":20},
{"t":"08:40:20","s":"QueueSize","v":20},{"t":"08:41:20","s":"QueueSize","v":20},{"t":"08:42:20","s":"QueueSize","v":20},{"t":"08:43:20","s":"QueueSize","v":30},{"t":"08:44:20","s":"QueueSize","v":30},{"t":"08:45:20","s":"QueueSize","v":30},{"t":"08:46:20","s":"QueueSize","v":30},{"t":"08:47:20","s":"QueueSize","v":15},{"t":"08:48:20","s":"QueueSize","v":15},{"t":"08:49:20","s":"QueueSize","v":15},
{"t":"08:50:20","s":"QueueSize","v":15},{"t":"08:51:20","s":"QueueSize","v":15},{"t":"08:52:20","s":"QueueSize","v":15},{"t":"08:53:20","s":"QueueSize","v":15},{"t":"08:54:20","s":"QueueSize","v":15},{"t":"08:55:20","s":"QueueSize","v":15},{"t":"08:56:20","s":"QueueSize","v":15},{"t":"08:57:20","s":"QueueSize","v":15},{"t":"08:58:20","s":"QueueSize","v":15},{"t":"08:59:20","s":"QueueSize","v":15},
{"t":"09:00:20","s":"QueueSize","v":15},{"t":"09:01:20","s":"QueueSize","v":15},{"t":"09:02:20","s":"QueueSize","v":15},{"t":"09:03:20","s":"QueueSize","v":15},{"t":"09:04:20","s":"QueueSize","v":15},{"t":"09:05:20","s":"QueueSize","v":15},{"t":"09:06:20","s":"QueueSize","v":15},{"t":"09:07:20","s":"QueueSize","v":15},{"t":"09:08:20","s":"QueueSize","v":15},{"t":"09:09:20","s":"QueueSize","v":15},
{"t":"09:10:20","s":"QueueSize","v":15},{"t":"09:11:20","s":"QueueSize","v":15},{"t":"09:12:20","s":"QueueSize","v":15},{"t":"09:13:20","s":"QueueSize","v":30},{"t":"09:14:20","s":"QueueSize","v":50},{"t":"09:15:20","s":"QueueSize","v":65},{"t":"09:16:20","s":"QueueSize","v":75},{"t":"09:17:20","s":"QueueSize","v":80},{"t":"09:18:20","s":"QueueSize","v":75},{"t":"09:19:20","s":"QueueSize","v":60},
{"t":"09:20:20","s":"QueueSize","v":45},{"t":"09:21:20","s":"QueueSize","v":30},{"t":"09:22:20","s":"QueueSize","v":15},{"t":"09:23:20","s":"QueueSize","v":15},{"t":"09:24:20","s":"QueueSize","v":15},{"t":"09:25:20","s":"QueueSize","v":15},{"t":"09:26:20","s":"QueueSize","v":15},{"t":"09:27:20","s":"QueueSize","v":15},{"t":"09:28:20","s":"QueueSize","v":15},{"t":"09:29:20","s":"QueueSize","v":15},
{"t":"09:30:20","s":"QueueSize","v":15},{"t":"09:31:20","s":"QueueSize","v":15},{"t":"09:32:20","s":"QueueSize","v":15},{"t":"09:33:20","s":"QueueSize","v":15},{"t":"09:34:20","s":"QueueSize","v":15},{"t":"09:35:20","s":"QueueSize","v":15},{"t":"09:36:20","s":"QueueSize","v":15},{"t":"09:37:20","s":"QueueSize","v":15},{"t":"09:38:20","s":"QueueSize","v":15},{"t":"09:39:20","s":"QueueSize","v":15},
{"t":"09:40:20","s":"QueueSize","v":15},{"t":"09:41:20","s":"QueueSize","v":15},{"t":"09:42:20","s":"QueueSize","v":15},{"t":"09:43:20","s":"QueueSize","v":15},{"t":"09:44:20","s":"QueueSize","v":15},{"t":"09:45:20","s":"QueueSize","v":15},{"t":"09:46:20","s":"QueueSize","v":15},{"t":"09:47:20","s":"QueueSize","v":15},{"t":"09:48:20","s":"QueueSize","v":15},{"t":"09:49:20","s":"QueueSize","v":15},
{"t":"09:50:20","s":"QueueSize","v":15},{"t":"09:51:20","s":"QueueSize","v":30},{"t":"09:52:20","s":"QueueSize","v":50},{"t":"09:53:20","s":"QueueSize","v":60},{"t":"09:54:20","s":"QueueSize","v":60},{"t":"09:55:20","s":"QueueSize","v":65},{"t":"09:56:20","s":"QueueSize","v":70},{"t":"09:57:20","s":"QueueSize","v":80},{"t":"09:58:20","s":"QueueSize","v":100},{"t":"09:59:20","s":"QueueSize","v":80}
  ]},
  "mark": {"type": "line", "strokeWidth": 1.2},
  "encoding": {
    "x": {"field": "t", "type": "temporal", "title": null,
      "scale": {"domain": [{"year": 1900, "month": 1, "date": 1, "hours": 8, "minutes": 0, "seconds": 0}, {"year": 1900, "month": 1, "date": 1, "hours": 10, "minutes": 0, "seconds": 0}]},
      "axis": {"values": [
        {"year": 1900, "month": 1, "date": 1, "hours": 8, "minutes": 0}, {"year": 1900, "month": 1, "date": 1, "hours": 8, "minutes": 5}, {"year": 1900, "month": 1, "date": 1, "hours": 8, "minutes": 10}, {"year": 1900, "month": 1, "date": 1, "hours": 8, "minutes": 15}, {"year": 1900, "month": 1, "date": 1, "hours": 8, "minutes": 20},
        {"year": 1900, "month": 1, "date": 1, "hours": 8, "minutes": 25}, {"year": 1900, "month": 1, "date": 1, "hours": 8, "minutes": 30}, {"year": 1900, "month": 1, "date": 1, "hours": 8, "minutes": 35}, {"year": 1900, "month": 1, "date": 1, "hours": 8, "minutes": 40},
        {"year": 1900, "month": 1, "date": 1, "hours": 8, "minutes": 45}, {"year": 1900, "month": 1, "date": 1, "hours": 8, "minutes": 50}, {"year": 1900, "month": 1, "date": 1, "hours": 8, "minutes": 55}, {"year": 1900, "month": 1, "date": 1, "hours": 9, "minutes": 0},
        {"year": 1900, "month": 1, "date": 1, "hours": 9, "minutes": 5}, {"year": 1900, "month": 1, "date": 1, "hours": 9, "minutes": 10}, {"year": 1900, "month": 1, "date": 1, "hours": 9, "minutes": 15}, {"year": 1900, "month": 1, "date": 1, "hours": 9, "minutes": 20},
        {"year": 1900, "month": 1, "date": 1, "hours": 9, "minutes": 25}, {"year": 1900, "month": 1, "date": 1, "hours": 9, "minutes": 30}, {"year": 1900, "month": 1, "date": 1, "hours": 9, "minutes": 35}, {"year": 1900, "month": 1, "date": 1, "hours": 9, "minutes": 40},
        {"year": 1900, "month": 1, "date": 1, "hours": 9, "minutes": 45}, {"year": 1900, "month": 1, "date": 1, "hours": 9, "minutes": 50}, {"year": 1900, "month": 1, "date": 1, "hours": 9, "minutes": 55}, {"year": 1900, "month": 1, "date": 1, "hours": 10, "minutes": 0}],
        "labelExpr": "minutes(datum.value) % 20 === 0 && !(hours(datum.value) === 8 && minutes(datum.value) === 0) && hours(datum.value) < 10 ? timeFormat(datum.value, '%H:%M') : ''", "grid": true, "gridColor": {"condition": {"test": "minutes(datum.value) % 20 === 0", "value": "#dcc2dc"}, "value": "#e6e6e6"}, "gridWidth": 1, "labelPadding": 9}},
    "y": {"field": "v", "type": "quantitative", "title": null,
      "scale": {"domain": [0, 10000], "nice": false},
      "axis": {"values": [0, 1000, 2000, 3000, 4000, 5000, 6000, 7000, 8000, 9000, 10000], "labelExpr": "datum.value === 0 ? '0' : (datum.value % 2000 === 0 ? format(datum.value / 1000, '.1f') + ' K' : '')", "grid": true, "gridColor": {"condition": {"test": "datum.value % 2000 === 0", "value": "#dcc2dc"}, "value": "#e6e6e6"}, "gridWidth": 1, "labelPadding": 7}},
    "color": {"field": "s", "type": "nominal",
      "scale": {"domain": ["Outgoing", "Incoming", "QueueSize"], "range": ["#6464ff", "#00c800", "#cc0033"]},
      "legend": {"title": null, "orient": "none", "direction": "horizontal", "legendX": -33, "legendY": 351, "columnPadding": 15,
        "encode": {"symbols": {"update": {"fill": {"scale": "mu_color", "field": "value"}, "stroke": {"value": "#888888"}, "strokeWidth": {"value": 1}}}}}}
  }
}
]
}
